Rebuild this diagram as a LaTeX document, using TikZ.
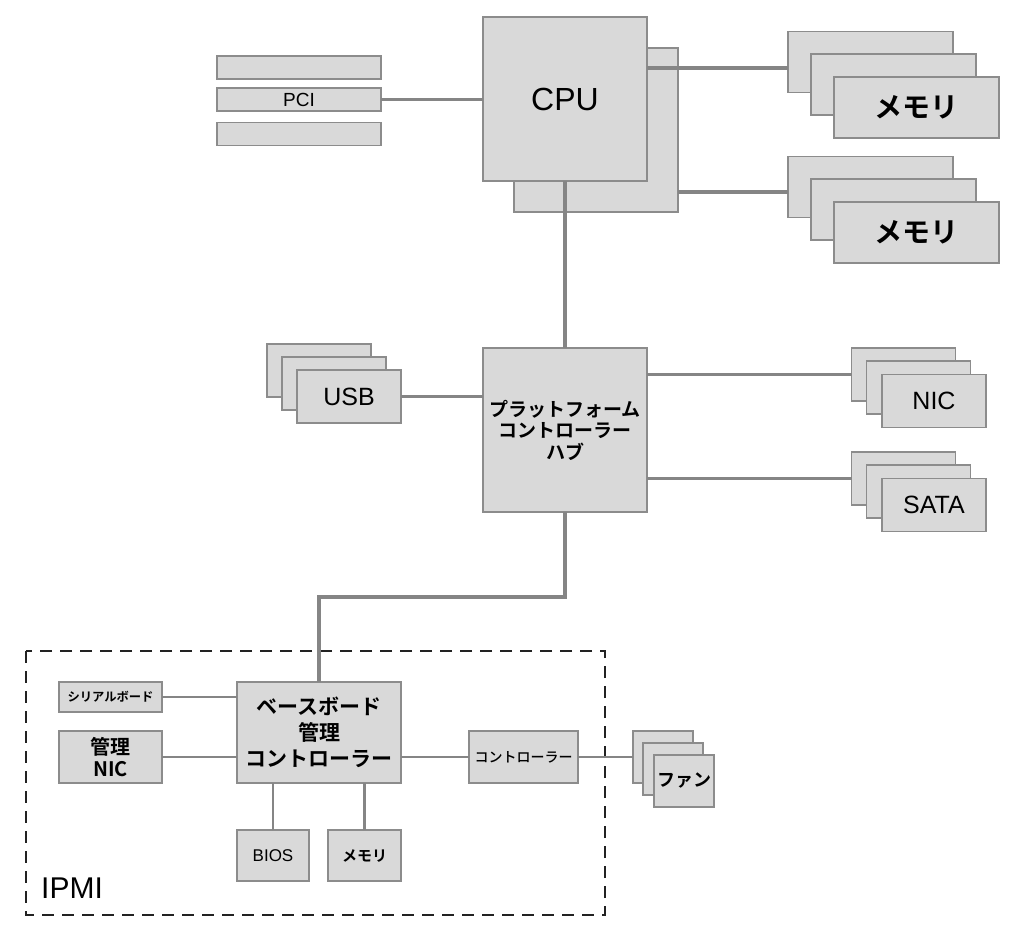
\documentclass[tikz,border=0pt]{standalone}
\usepackage{fontspec}
\setmainfont{Noto Sans CJK JP}[BoldFont={Noto Sans CJK JP Bold}]
\newfontfamily\latinfont{Liberation Sans}
\newfontfamily\midfont{Noto Sans CJK JP Medium}
\usetikzlibrary{calc}
\definecolor{boxfill}{HTML}{D9D9D9}
\definecolor{boxline}{HTML}{8C8C8C}
\definecolor{wire}{HTML}{858585}
\definecolor{ipmiline}{HTML}{222222}

\begin{document}
\begin{tikzpicture}[x=1pt, y=-1pt,
  box/.style={draw=boxline, fill=boxfill, line width=1.5pt, inner sep=0pt, outer sep=0pt, align=center},
  txt/.style 2 args={font=\fontsize{#1}{#2}\selectfont},
  lat/.style={font=\fontsize{#1}{#1}\selectfont\latinfont},
  link/.style={draw=wire, line width=2.2pt},
  bus/.style={draw=wire, line width=4.5pt}]
  \useasboundingbox (0,0) rectangle (1024,935);

  % IPMI
  \draw[ipmiline, line width=2.8pt, dash pattern=on 12pt off 8pt] (26,651) rectangle (605,915);
  \node[lat=30, anchor=base west, inner sep=0pt] (ipmi) at (41,898) {IPMI};

  % PCI
  \node[box, minimum width=164, minimum height=23] (pci1) at (299,67.5) {};
  \node[box, minimum width=164, minimum height=23, lat=19] (pci) at (299,99.5) {PCI};
  \node[box, minimum width=164, minimum height=23] (pci3) at (299,134) {};

  % CPU
  \node[box, minimum width=164, minimum height=164] (cpuback) at (596,130) {};
  \node[box, minimum width=164, minimum height=164, lat=32] (cpu) at (565,99) {CPU};

  % memory
  \foreach \n/\y in {a/62, b/187} {
    \node[box, minimum width=165, minimum height=61] (mem\n1) at (870.5,\y) {};
    \node[box, minimum width=165, minimum height=61] (mem\n2) at (893.5,\y+22.5) {};
    \node[box, minimum width=165, minimum height=61, txt={28}{34}] (mem\n3) at (916.5,\y+45.5) {\bfseries メモリ};
  }

  % PCH
  \node[box, minimum width=164, minimum height=164, txt={19}{21.5}] (pch) at (565,430)
    {\bfseries プラットフォーム\\\bfseries コントローラー\\\bfseries ハブ};

  % USB / NIC / SATA
  \node[box, minimum width=104, minimum height=53] (usb1) at (319,370.5) {};
  \node[box, minimum width=104, minimum height=53] (usb2) at (334,383.5) {};
  \node[box, minimum width=104, minimum height=53, lat=25] (usb3) at (349,396.5) {USB};
  \foreach \n/\t/\y in {nic/NIC/374.5, sata/SATA/478.5} {
    \node[box, minimum width=104, minimum height=53] (\n1) at (903.5,\y) {};
    \node[box, minimum width=104, minimum height=53] (\n2) at (918.5,\y+13) {};
    \node[box, minimum width=104, minimum height=53, lat=25] (\n3) at (934,\y+26.5) {\t};
  }

  % BMC
  \node[box, minimum width=164, minimum height=101, txt={21}{26}] (bmc) at (319,732.5)
    {\bfseries ベースボード\\\bfseries 管理\\\bfseries コントローラー};
  \node[box, minimum width=103, minimum height=30, txt={12.3}{14}] (serial) at (110.5,697) {\bfseries シリアルボード};
  \node[box, minimum width=103, minimum height=52, txt={20}{22}] (mnic) at (110.5,757) {\bfseries 管理\\\bfseries NIC};
  \node[box, minimum width=109, minimum height=52, txt={14}{16}] (ctrl) at (523.5,757) {\midfont コントローラー};
  \node[box, minimum width=72, minimum height=51, lat=17] (bios) at (273,855.5) {BIOS};
  \node[box, minimum width=73, minimum height=51, txt={15}{18}] (smem) at (364.5,855.5) {\bfseries メモリ};
  \node[box, minimum width=60, minimum height=52] (fan1) at (663,757) {};
  \node[box, minimum width=60, minimum height=52] (fan2) at (673,769) {};
  \node[box, minimum width=60, minimum height=52, txt={18}{20}] (fan3) at (684,781) {\bfseries ファン};

  % connectors
  \coordinate (mema in) at ($(mema1.west)+(0,6)$);
  \coordinate (memb in) at ($(memb1.west)+(0,5)$);
  \coordinate (bend) at (565,597);
  \draw[link] (pci.east) -- (pci.east -| cpu.west);
  \draw[bus] (cpu.east |- mema in) -- (mema in);
  \draw[bus] (cpuback.east |- memb in) -- (memb in);
  \draw[bus] (cpu.south) -- (pch.north);
  \draw[link] (usb3.east) -- (usb3.east -| pch.west);
  \draw[link] (pch.east |- nic1.west) -- (nic1.west);
  \draw[link] (pch.east |- sata1.west) -- (sata1.west);
  \draw[bus] (pch.south) -- (bend) -| (bmc.north);
  \draw[link] (serial.east) -- (serial.east -| bmc.west);
  \draw[link] (mnic.east) -- (mnic.east -| bmc.west);
  \draw[link] (ctrl.west -| bmc.east) -- (ctrl.west);
  \draw[link] (bios.north) -- (bios.north |- bmc.south);
  \draw[link] (smem.north) -- (smem.north |- bmc.south);
  \draw[link] (ctrl.east) -- (fan1.west);
\end{tikzpicture}
\end{document}
